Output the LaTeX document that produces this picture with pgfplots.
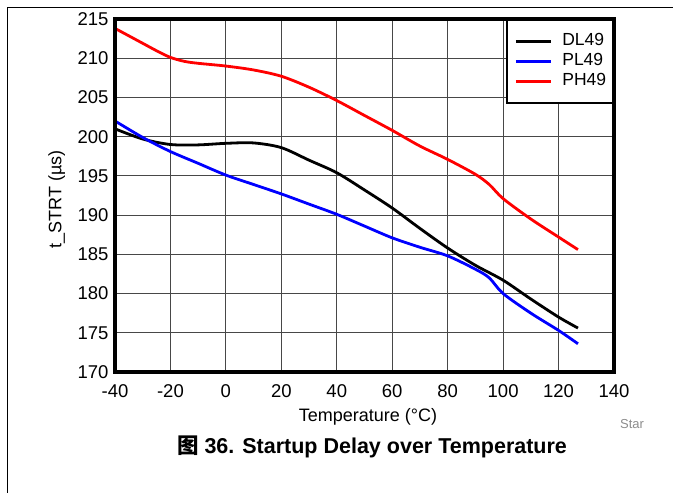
\documentclass[border=0pt]{standalone}
\usepackage{fontspec}
\setmainfont{Liberation Sans}
\newfontfamily\cjk{Noto Sans CJK SC}
\usepackage{pgfplots}
\pgfplotsset{compat=1.18}
\begin{document}
\begin{tikzpicture}[x=1bp,y=1bp]
\path[use as bounding box] (0,0) rectangle (673,493);
\draw[line width=1bp] (7.5,0) -- (7.5,485.5) -- (673,485.5);
\begin{axis}[
  at={(115bp,121bp)}, anchor=south west,
  width=499bp, height=353bp, scale only axis, clip=false,
  xmin=-40, xmax=140, ymin=170, ymax=215,
  xtick={-40,-20,...,140}, ytick={170,175,...,215},
  grid=major, major grid style={black!72, line width=0.9bp},
  axis line style={line width=3.1bp},
  tick style={draw=none},
  /pgf/number format/assume math mode=true,
  ticklabel style={font=\fontsize{18.5bp}{20bp}\selectfont},
  xticklabel style={yshift=-9bp},
  yticklabel style={xshift=-3bp},
  xlabel={Temperature (°C)},
  ylabel={t\_STRT (µs)},
  label style={font=\fontsize{18bp}{20bp}\selectfont},
  xlabel style={at={(axis description cs:0.507,-0.139)}, anchor=base},
  ylabel style={at={(axis description cs:-0.117,0.49)}, anchor=center},
  legend style={at={(1,1)}, anchor=north east, draw=black, line width=1.8bp,
    fill=white, font=\fontsize{17.5bp}{20bp}\selectfont,
    inner xsep=7bp, inner ysep=14bp, row sep=5bp,
    nodes={inner sep=0pt, text height=12bp, text depth=3bp},
    /tikz/every odd column/.append style={column sep=10bp}},
  legend cell align=left,
  legend image code/.code={\draw[#1, line width=3bp] (0bp,0bp) -- (35bp,0bp);},
]
\addplot[black, line width=2.8bp, smooth] coordinates {
(-40,201.0) (-30,199.7) (-20,199.0) (-10,198.95) (0,199.15) (10,199.2) (20,198.6)
(30,197.0) (40,195.4) (50,193.2) (60,190.9) (70,188.3) (80,185.8) (90,183.6)
(100,181.7) (110,179.3) (120,177.0) (127,175.6)};
\addlegendentry{DL49}
\addplot[blue, line width=2.8bp, smooth] coordinates {
(-40,202.0) (-30,199.9) (-20,198.1) (-10,196.6) (0,195.1) (10,193.9) (20,192.7)
(30,191.4) (40,190.1) (50,188.6) (60,187.1) (70,185.9) (80,184.8) (90,183.1)
(95,182.0) (100,180.0) (110,177.5) (120,175.3) (127,173.6)};
\addlegendentry{PL49}
\addplot[red, line width=2.8bp, smooth] coordinates {
(-40,213.8) (-35,212.85) (-30,211.9) (-25,210.95) (-20,210.1) (-15,209.6) (-10,209.35) (0,209.0) (10,208.5) (20,207.7)
(30,206.3) (40,204.6) (50,202.7) (60,200.8) (70,198.8) (80,197.1) (90,195.2)
(95,193.9) (100,192.1) (110,189.5) (120,187.2) (127,185.6)};
\addlegendentry{PH49}
\draw[line width=3.1bp] (rel axis cs:0,0) rectangle (rel axis cs:1,1);
\end{axis}
\node[font=\fontsize{13bp}{15bp}\selectfont, text=black!45, anchor=center] at (632,69) {Star};
\node[font=\bfseries\fontsize{21.5bp}{24bp}\selectfont, anchor=center] at (372,46) {{\cjk 图} 36. Startup Delay over Temperature};
\end{tikzpicture}
\end{document}
